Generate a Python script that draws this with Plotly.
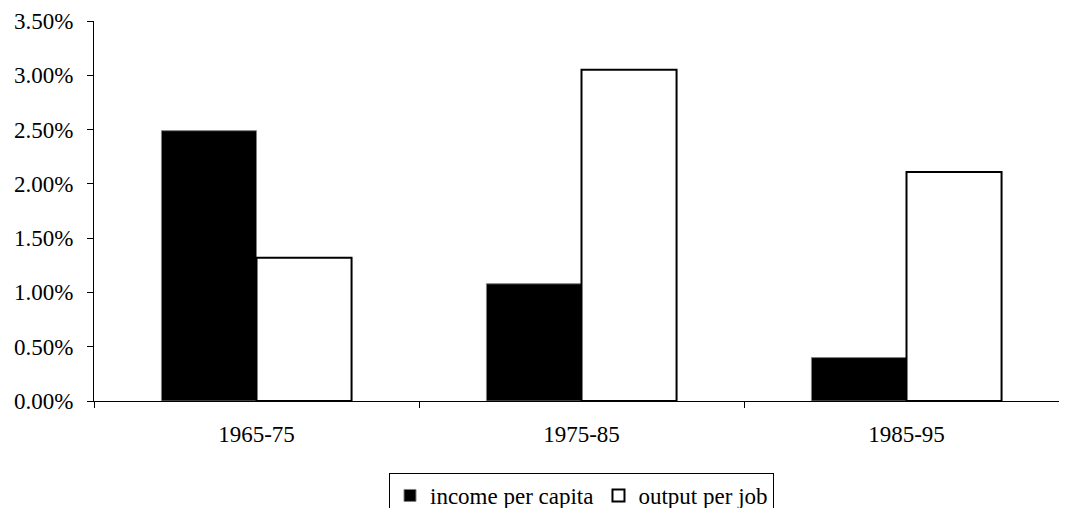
import plotly.graph_objects as go

periods = ["1965-75", "1975-85", "1985-95"]
income_per_capita = [0.0249, 0.0108, 0.0040]
output_per_job = [0.0132, 0.0305, 0.0211]
y_ticks = [0, 0.005, 0.01, 0.015, 0.02, 0.025, 0.03, 0.035]

font = "Liberation Serif, Times New Roman, serif"

fig = go.Figure()
fig.add_trace(go.Bar(x=periods, y=income_per_capita, name="income per capita",
                     marker=dict(color="black", line=dict(color="#808080", width=1))))
fig.add_trace(go.Bar(x=periods, y=output_per_job, name="output per job",
                     marker=dict(color="white", line=dict(color="black", width=2))))

# page body has an 8px margin, so margins are 8px smaller than in the picture
fig.update_layout(
    width=1061, height=500,
    margin=dict(l=86, r=0, t=13, b=107),
    paper_bgcolor="white", plot_bgcolor="white",
    font=dict(family=font, size=23, color="black"),
    barmode="group", bargap=0.415, bargroupgap=0,
    showlegend=True,
    legend=dict(orientation="h", x=0.5, xanchor="center",
                yref="container", y=0.07, yanchor="top",
                bordercolor="black", borderwidth=1, font=dict(size=23),
                itemwidth=30, tracegroupgap=0),
)
fig.update_xaxes(showline=True, linecolor="black", linewidth=1,
                 ticks="outside", tickson="boundaries", ticklen=6, tickcolor="black",
                 ticklabelstandoff=12, showgrid=False, range=[-0.5, 2.5])
fig.update_yaxes(range=[0, 0.035], tickvals=y_ticks, tickformat=".2%",
                 showline=True, linecolor="black", linewidth=1,
                 ticks="outside", ticklen=6, tickcolor="black",
                 ticklabelstandoff=9, showgrid=False, zeroline=False)

fig.write_html("out.html")
